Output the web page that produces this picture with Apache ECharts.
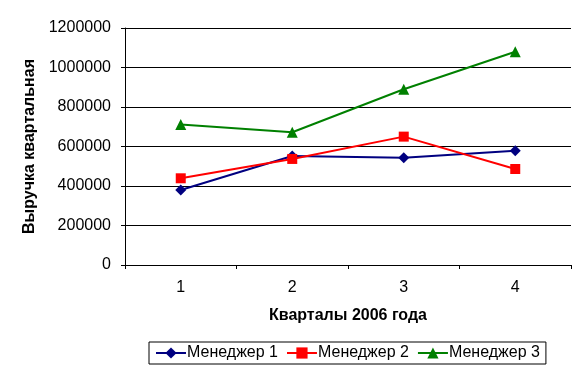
<!DOCTYPE html>
<html>
<head>
<meta charset="utf-8">
<script src="https://cdn.jsdelivr.net/npm/echarts@6/dist/echarts.min.js"></script>
<style>
  html, body { margin: 0; padding: 0; background: #fff; }
  #chart { width: 587px; height: 377px; }
</style>
</head>
<body>
<div id="chart"></div>
<script>
const quarters = ['1', '2', '3', '4']
const manager1 = [380000, 552000, 543000, 579000]
const manager2 = [439000, 537000, 650000, 486000]
const manager3 = [712000, 672000, 890000, 1080000]
const seriesNames = ['Менеджер 1', 'Менеджер 2', 'Менеджер 3']

const font = 'Arial, "Liberation Sans", sans-serif'

const chart = echarts.init(document.getElementById('chart'))

const mkSeries = (name, data, color, symbol, size) => ({
  name,
  type: 'line',
  data,
  symbol,
  symbolSize: size,
  showSymbol: true,
  itemStyle: { color },
  lineStyle: { color, width: 2 },
  emphasis: { disabled: true },
})

chart.setOption({
  animation: false,
  backgroundColor: '#fff',
  grid: { left: 125, right: 16, top: 28, bottom: 112, containLabel: false },
  xAxis: {
    type: 'category',
    data: quarters,
    boundaryGap: true,
    name: 'Кварталы 2006 года',
    nameLocation: 'middle',
    nameGap: 43,
    nameTextStyle: { fontFamily: font, fontSize: 16, fontWeight: 'bold', color: '#000' },
    axisLine: { lineStyle: { color: '#000', width: 1 } },
    axisTick: { show: true, length: 4, lineStyle: { color: '#000' } },
    axisLabel: { fontFamily: font, fontSize: 16, color: '#000', margin: 15 },
  },
  yAxis: {
    type: 'value',
    min: 0,
    max: 1200000,
    interval: 200000,
    name: 'Выручка квартальная',
    nameLocation: 'middle',
    nameGap: 87,
    nameTextStyle: { fontFamily: font, fontSize: 16, fontWeight: 'bold', color: '#000' },
    axisLine: { show: true, lineStyle: { color: '#000', width: 1 } },
    axisTick: { show: true, length: 4, lineStyle: { color: '#000' } },
    axisLabel: { fontFamily: font, fontSize: 16, color: '#000', margin: 14, formatter: v => String(v) },
    splitLine: { show: true, lineStyle: { color: '#000', width: 1 } },
  },
  legend: {
    data: seriesNames,
    left: 149,
    top: 342,
    orient: 'horizontal',
    borderColor: '#000',
    borderWidth: 1,
    padding: [3, 6, 3, 6],
    itemGap: 8,
    itemWidth: 30,
    itemHeight: 14,
    textStyle: { fontFamily: font, fontSize: 16, color: '#000', padding: [0, 0, 0, -4] },
  },
  series: [
    mkSeries(seriesNames[0], manager1, '#000080', 'diamond', 11),
    mkSeries(seriesNames[1], manager2, '#ff0000', 'rect', 10),
    mkSeries(seriesNames[2], manager3, '#008000', 'triangle', 11),
  ],
})
</script>
</body>
</html>
